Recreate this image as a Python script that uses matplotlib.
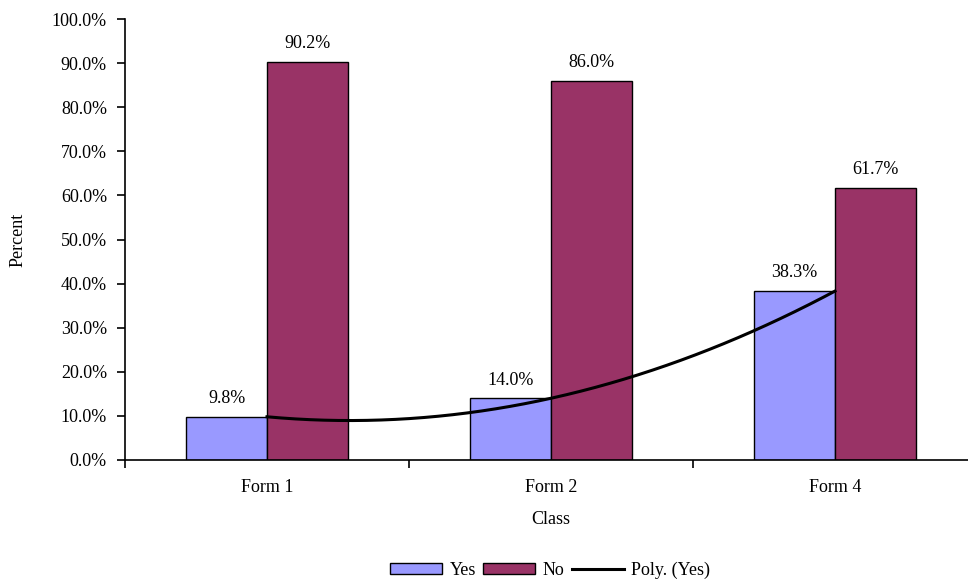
import numpy as np
import matplotlib.pyplot as plt
from matplotlib.patches import Patch
from matplotlib.lines import Line2D
from matplotlib.ticker import FuncFormatter

plt.rcParams['font.family'] = ['Liberation Serif', 'DejaVu Serif']

categories = ['Form 1', 'Form 2', 'Form 4']
yes_vals = [9.8, 14.0, 38.3]
no_vals = [90.2, 86.0, 61.7]

yes_color = '#9999FF'
no_color = '#993366'
fs = 13

fig = plt.figure(figsize=(9.68, 5.81), dpi=100)
ax = fig.add_axes([125 / 968, 1 - 460 / 581, 852 / 968, 441 / 581])

x = np.arange(len(categories))
w = 0.285
b1 = ax.bar(x - w / 2, yes_vals, w, color=yes_color, edgecolor='black', linewidth=1)
b2 = ax.bar(x + w / 2, no_vals, w, color=no_color, edgecolor='black', linewidth=1)

for bars, vals in [(b1, yes_vals), (b2, no_vals)]:
    for rect, v in zip(bars, vals):
        ax.annotate(f'{v:.1f}%', (rect.get_x() + rect.get_width() / 2, v),
                    xytext=(0, 7), textcoords='offset points',
                    ha='center', va='bottom', fontsize=fs)

# polynomial (order 2) trendline of the Yes series
coef = np.polyfit(x, yes_vals, 2)
xs = np.linspace(x[0], x[-1], 200)
ax.plot(xs, np.polyval(coef, xs), color='black', linewidth=2.2)

ax.set_xlim(-0.5, 2.5)
ax.set_ylim(0, 100)
ax.set_yticks(np.arange(0, 101, 10))
ax.yaxis.set_major_formatter(FuncFormatter(lambda v, p: f'{v:.1f}%'))
ax.set_xticks(x)
ax.set_xticklabels(categories)
ax.set_xticks([-0.5, 0.5, 1.5, 2.5], minor=True)
ax.tick_params(axis='x', which='major', length=0, pad=14, labelsize=fs)
ax.tick_params(axis='x', which='minor', length=6, width=1.2, direction='out')
ax.tick_params(axis='y', length=6, width=1.2, direction='out', labelsize=fs, pad=7)

for s in ['top', 'right']:
    ax.spines[s].set_visible(False)
ax.spines['left'].set_linewidth(1.2)
ax.spines['bottom'].set_linewidth(1.2)

ax.set_ylabel('Percent', fontsize=fs, va='center')
ax.yaxis.set_label_coords((18 - 125) / 852, 0.5)
ax.set_xlabel('Class', fontsize=fs, va='center')
ax.xaxis.set_label_coords(0.5, -(519 - 460) / 441)

handles = [Patch(facecolor=yes_color, edgecolor='black', label='Yes'),
           Patch(facecolor=no_color, edgecolor='black', label='No'),
           Line2D([0], [0], color='black', linewidth=2.2, label='Poly. (Yes)')]
fig.legend(handles=handles, loc='center', bbox_to_anchor=(550 / 968, 1 - 570 / 581),
           ncol=3, frameon=False, fontsize=fs, handlelength=2.9, handleheight=0.55,
           columnspacing=0.4, handletextpad=0.4, borderpad=0)

fig.savefig('out.png', dpi=100)
